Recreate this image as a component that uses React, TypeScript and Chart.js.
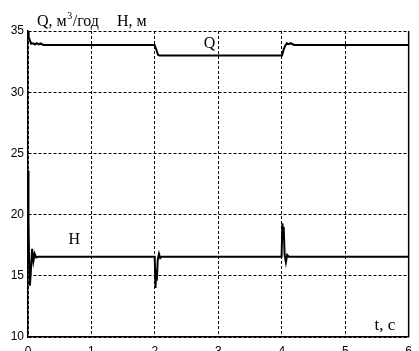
import React, { useEffect, useRef } from "react";
import { Chart, registerables } from "chart.js";

Chart.register(...registerables);

// time axis ticks (s) and value axis ticks
const xTicks = [0, 1, 2, 3, 4, 5, 6];
const yTicks = [10, 15, 20, 25, 30, 35];

// Q, m^3/h — flow rate
const qTime = [0, 0.01, 0.025, 0.05, 0.08, 0.11, 0.14, 0.17, 0.2, 0.24, 1.995, 2.02, 2.05, 2.07, 4.005, 4.03, 4.05, 4.08, 4.11, 4.14, 4.17, 4.2, 6];
const qValues = [35.0, 34.5, 34.3, 33.95, 34.0, 33.9, 34.0, 33.9, 33.98, 33.86, 33.86, 33.5, 33.05, 33.0, 33.0, 33.5, 33.75, 34.0, 33.92, 34.0, 33.92, 33.86, 33.86];

// H, m — head
const hTime = [0, 0.008, 0.018, 0.03, 0.045, 0.065, 0.085, 0.105, 0.13, 0.16, 1.997, 2.01, 2.02, 2.03, 2.045, 2.065, 2.085, 2.11, 3.997, 4.01, 4.02, 4.03, 4.045, 4.065, 4.085, 4.11, 6];
const hValues = [23.6, 19.5, 16.0, 14.2, 15.4, 17.2, 16.2, 16.8, 16.5, 16.56, 16.56, 14.0, 15.5, 14.6, 16.3, 16.8, 16.45, 16.56, 16.56, 19.3, 18.0, 19.0, 16.7, 16.1, 16.7, 16.56, 16.56];

const serif = "'Liberation Serif', 'Times New Roman', serif";

const textPlugin = {
  id: "textLabels",
  afterDraw(chart: any) {
    const { ctx, chartArea, scales } = chart;
    const xs = scales.x;
    const ys = scales.y;
    ctx.save();
    ctx.fillStyle = "#000";
    ctx.textBaseline = "alphabetic";
    ctx.textAlign = "left";
    // right frame line (solid)
    ctx.strokeStyle = "#000";
    ctx.lineWidth = 1.5;
    ctx.setLineDash([]);
    ctx.beginPath();
    ctx.moveTo(chartArea.right, chartArea.top);
    ctx.lineTo(chartArea.right, chartArea.bottom);
    ctx.stroke();

    // axis title at top
    ctx.font = `16px ${serif}`;
    let x = 37;
    const base = 26;
    const p1 = "Q, м";
    ctx.fillText(p1, x, base);
    x += ctx.measureText(p1).width;
    ctx.font = `10px ${serif}`;
    ctx.fillText("3", x + 0.5, base - 7);
    x += ctx.measureText("3").width + 1;
    ctx.font = `16px ${serif}`;
    ctx.fillText("/год", x, base);
    ctx.fillText("H, м", 117, base);

    // series labels
    ctx.font = `16px ${serif}`;
    ctx.fillText("Q", xs.getPixelForValue(2.77), ys.getPixelForValue(33.6));
    ctx.fillText("H", xs.getPixelForValue(0.64), ys.getPixelForValue(17.6));
    ctx.font = `17px ${serif}`;
    ctx.fillText("t, с", xs.getPixelForValue(5.46), ys.getPixelForValue(10.55));
    ctx.restore();
  },
};

export default function App() {
  const ref = useRef<HTMLCanvasElement>(null);
  useEffect(() => {
    if (!ref.current) return;
    const chart = new Chart(ref.current, {
      type: "line",
      data: {
        datasets: [
          {
            label: "Q",
            data: qTime.map((t, i) => ({ x: t, y: qValues[i] })),
            borderColor: "#000",
            borderWidth: 2,
            pointRadius: 0,
            tension: 0,
            fill: false,
          },
          {
            label: "H",
            data: hTime.map((t, i) => ({ x: t, y: hValues[i] })),
            borderColor: "#000",
            borderWidth: 2,
            pointRadius: 0,
            tension: 0,
            fill: false,
          },
        ],
      },
      options: {
        responsive: false,
        animation: false,
        layout: { padding: { top: 31, right: 4, left: 0, bottom: 0 } },
        plugins: { legend: { display: false }, tooltip: { enabled: false } },
        scales: {
          x: {
            type: "linear",
            min: xTicks[0],
            max: xTicks[xTicks.length - 1],
            afterBuildTicks: (s: any) => {
              s.ticks = xTicks.map((v) => ({ value: v }));
            },
            afterFit: (s: any) => {
              s.height = 14;
            },
            ticks: {
              color: "#000",
              padding: 7,
              maxRotation: 0,
              font: { family: "'Liberation Sans', Arial, sans-serif", size: 12 },
            },
            grid: { color: "#000", lineWidth: 1, drawTicks: false },
            border: { display: true, color: "#000", width: 1.5, dash: [3, 2] },
          },
          y: {
            type: "linear",
            min: yTicks[0],
            max: yTicks[yTicks.length - 1],
            afterBuildTicks: (s: any) => {
              s.ticks = yTicks.map((v) => ({ value: v }));
            },
            afterFit: (s: any) => {
              s.width = 28;
            },
            ticks: {
              color: "#000",
              padding: 4,
              font: { family: "'Liberation Sans', Arial, sans-serif", size: 12 },
            },
            grid: { color: "#000", lineWidth: 1, drawTicks: false },
            border: { display: true, color: "#000", width: 1.5, dash: [3, 2] },
          },
        },
      },
      plugins: [textPlugin],
    });
    return () => chart.destroy();
  }, []);
  return (
    <div style={{ position: "absolute", left: 0, top: 0, width: 419, height: 351, background: "#fff" }}>
      <canvas ref={ref} width={419} height={351} />
    </div>
  );
}
